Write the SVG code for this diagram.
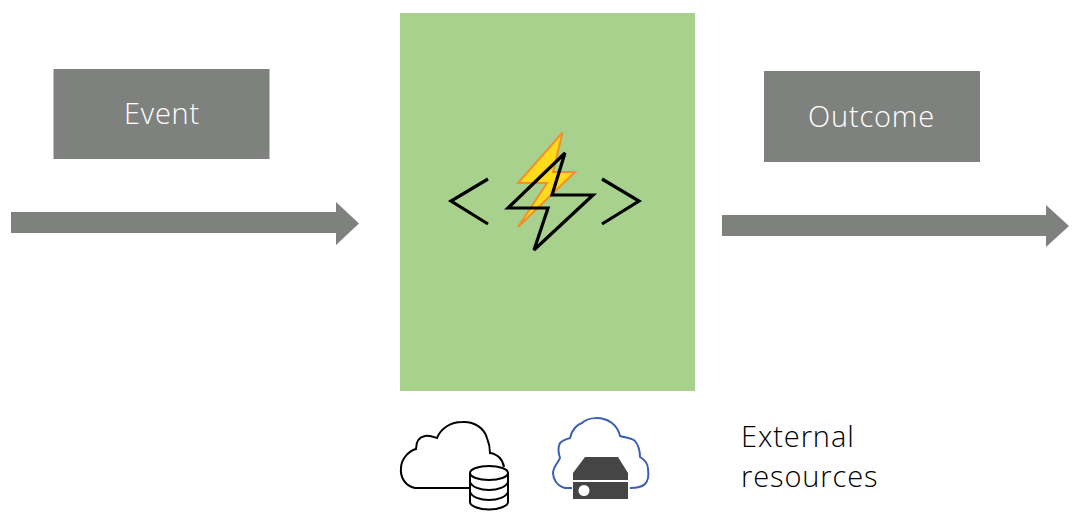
<svg xmlns="http://www.w3.org/2000/svg" width="1078" height="517" viewBox="0 0 1078 517">
<style>
.box{fill:#7f817f}
.lbl{font-family:"Open Sans","Liberation Sans",sans-serif;font-weight:300;font-size:29px;letter-spacing:0.8px;fill:#fff;text-anchor:middle}
.ext{font-family:"Open Sans","Liberation Sans",sans-serif;font-weight:300;font-size:29px;letter-spacing:0.9px;fill:#000}
.ln{fill:none;stroke:#000;stroke-width:3.200}
.arrow{fill:#7f817f}
</style>
<rect width="1078" height="517" fill="#fff"/>
<g id="connectors">
<path class="arrow" d="M11 212H336V202L359 223.500L336 245V233H11Z"/>
<path class="arrow" d="M722 215H1046V205L1069 226L1046 247V236H722Z"/>
</g>
<g id="event"><rect class="box" x="53.500" y="69" width="216" height="90"/><text class="lbl" x="162" y="124">Event</text></g>
<g id="outcome"><rect class="box" x="764" y="71" width="216" height="91"/><text class="lbl" x="871.500" y="127">Outcome</text></g>
<g id="function">
<rect x="400" y="13" width="295" height="378" fill="#a9d18e"/>
<path d="M562.500 132.500L518 183H547L518 227L575 172H553Z" fill="#ffdb1c" stroke="#f0902a" stroke-width="2"/>
<path class="ln" d="M488 179L451 201L488 224M602 179L639 201L602 224"/>
<path class="ln" d="M565 153L508 208H548L534 250L593 195H552Z"/>
</g>
<g id="resources">
<path d="M472 488H415C405 486 400 477 401 468C401 460 408 451 416 449C416 442 419 437 425 436C429 435 434 437 437 438C441 428 451 422 462 422C474 421 484 428 487 438C489 443 490 448 490 453C498 454 503 460 504 467" fill="none" stroke="#000" stroke-width="2"/>
<g fill="#fff" stroke="#000" stroke-width="2">
<path d="M470 473V502C470 506 479 509.500 489 509.500C499 509.500 508 506 508 502V473"/>
<ellipse cx="489" cy="473" rx="19" ry="7"/>
<path d="M470 482C472 487 480 490 489 490C498 490 506 487 508 482M470 492C472 497 480 500 489 500C498 500 506 497 508 492" fill="none"/>
</g>
<path d="M572 488H565C557 486 553 479 553 473C553 467 558 463 560 458C558 452 558 447 560 443C563 440 567 439 570 438C572 429 578 424 582 423C588 417 602 416 612 423C617 427 619 431 620 436C626 438 632 438 635 441C639 446 640 452 640 457C645 460 648 464 648 469C649 476 648 481 645 484C641 488 635 488 630 488" fill="none" stroke="#3b5fb5" stroke-width="2"/>
<path d="M585 457H618L628 473V480H573V473Z" fill="#454545"/>
<rect x="573" y="482" width="55" height="17" fill="#454545"/>
<circle cx="584" cy="490.500" r="5.500" fill="#fff"/>
<text class="ext"><tspan x="741" y="447">External</tspan><tspan x="741" y="487">resources</tspan></text>
</g>
</svg>
